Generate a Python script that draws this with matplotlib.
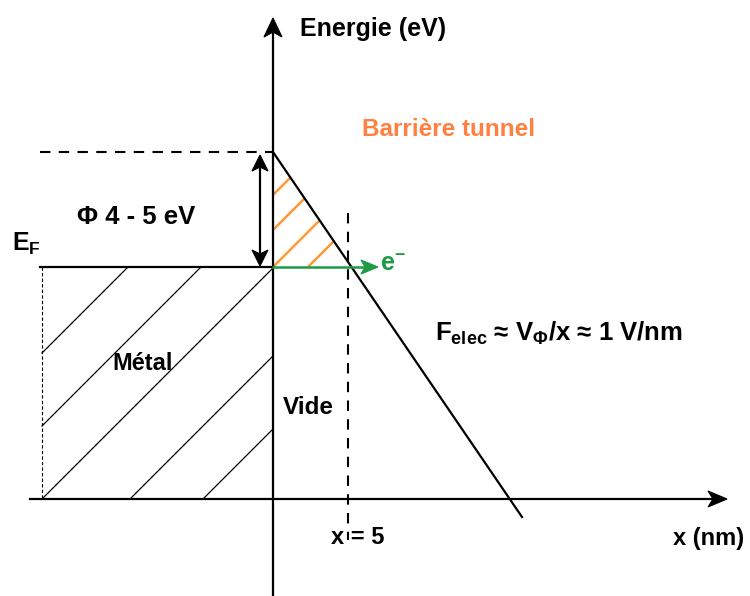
import matplotlib
matplotlib.use("Agg")
import matplotlib.pyplot as plt
from matplotlib.patches import Polygon
import numpy as np

plt.rcParams['font.family'] = ['Liberation Sans', 'DejaVu Sans']
plt.rcParams['mathtext.fontset'] = 'custom'
plt.rcParams['mathtext.rm'] = 'Liberation Sans:bold'
plt.rcParams['mathtext.it'] = 'Liberation Sans:bold'
plt.rcParams['mathtext.bf'] = 'Liberation Sans:bold'

# --- diagram geometry (pixel space of the 750x596 canvas) ---
W, H = 750, 596
axis_x = 273            # vertical energy axis
axis_y = 499            # horizontal x axis
fermi_y = 267           # Fermi level
vac_y = 152             # vacuum level (top of barrier)
metal_left = 42
barrier_end = (522, 517)
x5 = 348
metal_hatch = [395, 468, 541, 629, 702]      # x + y constants of metal hatch lines
barrier_hatch = [468, 503, 540, 575]          # x + y constants of orange hatch lines

ORANGE = '#FF9933'
ORANGE_TXT = '#FF8040'
GREEN = '#1E9A45'

fig = plt.figure(figsize=(7.5, 5.96), dpi=100)
ax = fig.add_axes([0, 0, 1, 1])
ax.set_xlim(0, W)
ax.set_ylim(H, 0)
ax.axis('off')


def arrow_head(tip, direction, color, length=19, half=9, notch=5):
    d = np.array(direction, float)
    d /= np.linalg.norm(d)
    n = np.array([-d[1], d[0]])
    tip = np.array(tip, float)
    base = tip - d * length
    pts = [tip, base + n * half, tip - d * (length - notch), base - n * half]
    ax.add_patch(Polygon(pts, closed=True, facecolor=color, edgecolor=color,
                         lw=0.8, zorder=6))


# axes
ax.plot([axis_x, axis_x], [H, 30], color='black', lw=1.6, zorder=5)
arrow_head((axis_x, 18), (0, -1), 'black')
ax.plot([30, 712], [axis_y, axis_y], color='black', lw=1.6, zorder=5)
arrow_head((727, axis_y), (1, 0), 'black', length=19, half=8)

# vacuum level dashed
ax.plot([40, axis_x], [vac_y, vac_y], color='black', lw=1.5,
        dashes=(5, 4), zorder=4)
# Fermi level
ax.plot([40, axis_x], [fermi_y, fermi_y], color='black', lw=1.6, zorder=4)
# left dashed metal boundary
ax.plot([metal_left, metal_left], [fermi_y, axis_y], color='black', lw=0.8,
        dashes=(3, 2), zorder=4)

# metal hatch lines (45 degrees), clipped to the metal rectangle
for c in metal_hatch:
    x_top = c - fermi_y
    x_bot = c - axis_y
    y_left = c - metal_left
    y_right = c - axis_x
    pts = []
    if metal_left <= x_top <= axis_x:
        pts.append((x_top, fermi_y))
    if metal_left <= x_bot <= axis_x:
        pts.append((x_bot, axis_y))
    if fermi_y < y_left < axis_y:
        pts.append((metal_left, y_left))
    if fermi_y < y_right < axis_y:
        pts.append((axis_x, y_right))
    if len(pts) >= 2:
        ax.plot([pts[0][0], pts[1][0]], [pts[0][1], pts[1][1]],
                color='black', lw=0.9, zorder=3)

# barrier line
ax.plot([axis_x, barrier_end[0]], [vac_y, barrier_end[1]], color='black',
        lw=1.6, zorder=5)
slope = (barrier_end[0] - axis_x) / (barrier_end[1] - vac_y)  # dx/dy

# orange hatch inside barrier triangle
for c in barrier_hatch:
    y_l = c - axis_x
    if y_l <= fermi_y:
        p0 = (axis_x, y_l)
    else:
        p0 = (c - fermi_y, fermi_y)
    y_r = (c - axis_x + vac_y * slope) / (1 + slope)
    p1 = (c - y_r, y_r)
    ax.plot([p0[0], p1[0]], [p0[1], p1[1]], color=ORANGE, lw=1.8,
            solid_capstyle='butt', zorder=4)

# x = 5 dashed vertical
ax.plot([x5, x5], [213, 540], color='black', lw=1.5, dashes=(5, 4), zorder=4)

# double arrow for work function
ax.plot([260, 260], [168, 252], color='black', lw=1.6, zorder=5)
arrow_head((260, 155), (0, -1), 'black', length=16, half=8, notch=4)
arrow_head((260, 266), (0, 1), 'black', length=16, half=8, notch=4)

# green electron arrow
ax.plot([axis_x, 365], [fermi_y, fermi_y], color=GREEN, lw=1.8, zorder=6)
arrow_head((378, fermi_y), (1, 0), GREEN, length=17, half=7, notch=4)

# texts
ax.text(300, 29, 'Energie (eV)', fontsize=18, fontweight='bold',
        ha='left', va='center')
ax.text(362, 129, 'Barrière tunnel', fontsize=17.5, fontweight='bold',
        color=ORANGE_TXT, ha='left', va='center')
ax.text(77, 217, 'Φ 4 - 5 eV', fontsize=18.5, fontweight='bold',
        ha='left', va='center')
ax.text(12, 244, r'E$_\mathrm{F}$', fontsize=18, fontweight='bold',
        ha='left', va='center')
ax.text(112, 363, 'Métal', fontsize=17, fontweight='bold',
        ha='left', va='center')
ax.text(283, 407, 'Vide', fontsize=17.5, fontweight='bold',
        ha='left', va='center')
ax.text(380, 264, r'e$^{-}$', fontsize=18, fontweight='bold', color=GREEN,
        ha='left', va='center')
ax.text(435, 333, r'F$_\mathrm{elec}$ ≈ V$_\mathrm{Φ}$/x ≈ 1 V/nm',
        fontsize=18.5, fontweight='bold', ha='left', va='center')
ax.text(331, 537, 'x = 5', fontsize=17, fontweight='bold',
        ha='left', va='center', zorder=3)
ax.text(673, 539, 'x (nm)', fontsize=17, fontweight='bold',
        ha='left', va='center')

fig.savefig('out.png', dpi=100, facecolor='white')
